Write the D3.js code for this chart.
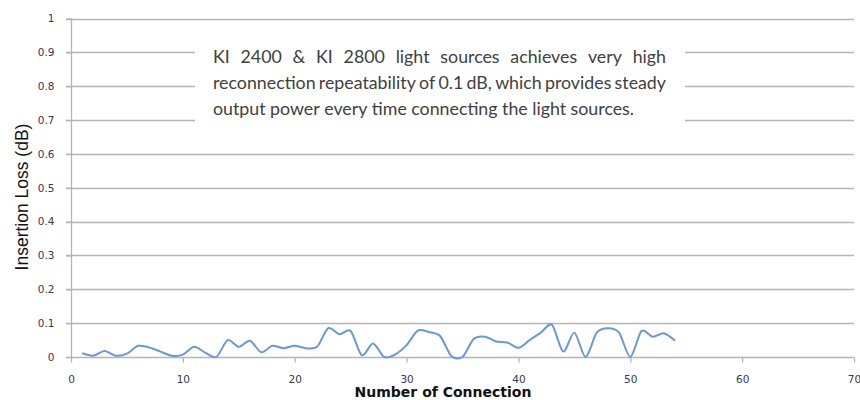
<!DOCTYPE html>
<html><head><meta charset="utf-8">
<script src="https://cdn.jsdelivr.net/npm/d3@7"></script>
<style>body{margin:0;background:#fff}svg{display:block}</style>
</head><body>
<svg id="c" width="860" height="400"></svg>
<script>
const connections = d3.range(1, 55);
const insertionLoss = [0.011,0.004,0.018,0.004,0.010,0.033,0.028,0.016,0.004,0.007,
  0.030,0.013,0.000,0.050,0.030,0.048,0.014,0.033,0.026,0.033,
  0.026,0.030,0.085,0.067,0.077,0.005,0.040,0.000,0.008,0.035,
  0.078,0.074,0.062,0.003,0.000,0.053,0.060,0.046,0.043,0.027,
  0.050,0.072,0.095,0.016,0.072,0.000,0.072,0.085,0.072,0.000,
  0.077,0.060,0.070,0.048];
const xTicks = [0,10,20,30,40,50,60,70];
const yTicks = [0,0.1,0.2,0.3,0.4,0.5,0.6,0.7,0.8,0.9,1];
const xTitle = "Number of Connection";
const yTitle = "Insertion Loss (dB)";
const noteLines = ["KI 2400 & KI 2800 light sources achieves very high",
  "reconnection repeatability of 0.1 dB, which provides steady",
  "output power every time connecting the light sources."];

const svg = d3.select("#c");
const x = d3.scaleLinear().domain([0,70]).range([71,854]);
const y = d3.scaleLinear().domain([0,1]).range([357,18.5]);
const grid = "#b4b4b4";

svg.append("g").selectAll("line").data(yTicks.filter(d=>d>0)).join("line")
  .attr("x1",66).attr("x2",854).attr("y1",d=>Math.round(y(d))+0.5).attr("y2",d=>Math.round(y(d))+0.5)
  .attr("stroke",grid).attr("stroke-width",1.3);

const ya = svg.append("g").attr("transform","translate(71.5,0)")
  .call(d3.axisLeft(y).tickValues(yTicks).tickFormat(d=>d3.format("")(d)).tickSize(5).tickPadding(12));
ya.select(".domain").attr("stroke",grid).attr("stroke-width",1.3).attr("d","M0,18.5V357");
ya.selectAll(".tick line").attr("stroke",grid).attr("stroke-width",1.3);
ya.selectAll(".tick text").attr("fill","#3a3550").attr("font-family","DejaVu Sans").attr("font-size",10.5);

const xa = svg.append("g").attr("transform","translate(0,357.5)")
  .call(d3.axisBottom(x).tickValues(xTicks).tickSize(5).tickPadding(13));
xa.select(".domain").attr("stroke",grid).attr("stroke-width",1.3).attr("d","M66,0H854");
xa.selectAll(".tick line").attr("stroke",grid).attr("stroke-width",1.3);
xa.selectAll(".tick text").attr("fill","#3a3550").attr("font-family","DejaVu Sans").attr("font-size",10.5);

const line = d3.line().x((d,i)=>x(connections[i])).y(d=>y(d)).curve(d3.curveCardinal.tension(0.15));
svg.append("path").datum(insertionLoss).attr("d",line)
  .attr("fill","none").attr("stroke","#6a96dc").attr("stroke-width",2);

// note box
svg.append("rect").attr("x",195).attr("y",38).attr("width",490).attr("height",90).attr("fill","#fff");
const left = 213, right = 666, lastWidth = 421;
// fit font size so the last (unjustified) line matches the reference width
const probe = svg.append("text").attr("font-family","Lato").attr("font-size",18).text(noteLines[2]);
const fs = 18 * lastWidth / probe.node().getComputedTextLength();
probe.remove();
noteLines.forEach((ln,li)=>{
  const yy = 63 + li*26;
  const words = ln.split(" ");
  const g = svg.append("g");
  const ts = words.map(w=>g.append("text").text(w).attr("font-family","Lato").attr("font-size",fs).attr("fill","#404040").attr("y",yy));
  const widths = ts.map(t=>t.node().getComputedTextLength());
  const total = d3.sum(widths);
  const justify = li < noteLines.length-1;
  const space = justify ? (right-left-total)/(words.length-1) : (lastWidth-total)/(words.length-1);
  let cx = left;
  ts.forEach((t,i)=>{ t.attr("x",cx); cx += widths[i]+space; });
});

svg.append("text").attr("x",443).attr("y",397).attr("text-anchor","middle")
  .attr("font-family","DejaVu Sans").attr("font-weight","bold").attr("font-size",14).attr("fill","#111").text(xTitle);
svg.append("text").attr("transform","translate(28,197) rotate(-90)").attr("text-anchor","middle")
  .attr("font-family","Liberation Sans").attr("font-size",17.5).attr("fill","#111").text(yTitle);
</script>
</body></html>
